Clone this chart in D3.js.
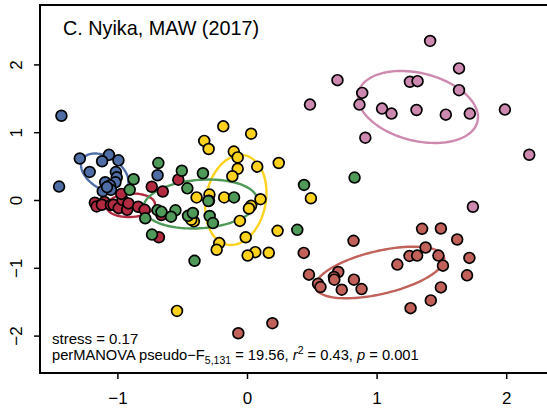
<!DOCTYPE html>
<html>
<head>
<meta charset="utf-8">
<script src="https://cdn.jsdelivr.net/npm/d3@7"></script>
<style>
  html, body { margin: 0; padding: 0; background: #fff; }
  svg { display: block; }
  text { font-family: "Liberation Sans", Arial, Helvetica, sans-serif; fill: #000; }
</style>
</head>
<body>
<svg id="chart" width="547" height="411"></svg>
<script>
// NMDS site scores, one array of [NMDS1, NMDS2] per group
const groupYellow = [[-0.183,1.086],[0.032,0.978],[-0.330,0.872],[-0.296,0.752],[-0.102,0.714],[-0.072,0.628],[0.079,0.492],[0.245,0.546],[-0.072,0.461],[-0.113,0.350],[0.493,0.025],[-0.389,0.038],[-0.290,0.080],[-0.176,0.038],[0.104,0.012],[0.031,-0.086],[0.015,-0.125],[-0.410,-0.315],[-0.430,-0.290],[-0.055,-0.308],[0.236,-0.455],[-0.010,-0.550],[-0.214,-0.636],[-0.234,-0.734],[0.064,-0.769],[0.005,-0.818],[0.168,-0.778],[-0.540,-1.636],[-0.293,-0.010]];
const groupCrimson = [[-1.174,-0.040],[-1.160,-0.095],[-1.100,-0.030],[-1.120,-0.070],[-1.050,-0.075],[-1.030,-0.070],[-0.990,-0.120],[-0.925,-0.145],[-0.960,0.000],[-0.970,0.090],[-0.915,-0.050],[-0.840,-0.100],[-0.790,-0.145],[-0.735,0.196],[-0.650,0.125],[-0.530,0.300],[-0.660,-0.222],[-0.680,-0.550]];
const groupGreen = [[0.830,0.331],[0.440,0.222],[0.388,-0.440],[-0.405,-0.897],[-0.684,0.545],[-0.503,0.432],[-0.340,0.394],[-0.875,0.306],[-0.460,0.172],[-0.298,-0.015],[-0.100,0.038],[-0.690,-0.150],[-0.785,-0.270],[-0.552,-0.152],[-0.586,-0.246],[-0.455,-0.234],[-0.418,-0.192],[-0.288,-0.236],[-0.263,-0.340],[-0.733,-0.510],[-0.905,0.150],[-0.660,-0.175]];
const groupBlue = [[-1.432,1.242],[-1.450,0.198],[-1.290,0.612],[-1.065,0.666],[-1.118,0.572],[-0.992,0.585],[-1.214,0.414],[-1.012,0.412],[-1.005,0.334],[-1.094,0.262],[-1.015,0.262],[-1.057,0.215],[-1.113,0.130],[-1.050,0.150],[-0.690,0.365],[-1.080,0.190]];
const groupBrick = [[0.822,-0.602],[1.351,-0.425],[1.496,-0.420],[1.622,-0.583],[0.438,-0.780],[1.378,-0.701],[1.254,-0.825],[1.313,-0.820],[1.477,-0.820],[1.716,-0.854],[1.160,-0.953],[1.512,-0.968],[0.478,-1.101],[0.704,-1.062],[0.671,-1.136],[0.674,-1.175],[0.825,-1.175],[1.698,-1.111],[0.548,-1.235],[0.567,-1.284],[0.731,-1.323],[0.884,-1.314],[1.496,-1.289],[1.418,-1.481],[1.262,-1.595],[0.196,-1.817],[-0.067,-1.965]];
const groupPink = [[1.413,2.346],[1.636,1.941],[0.698,1.768],[1.257,1.743],[1.316,1.753],[0.889,1.580],[1.636,1.620],[0.486,1.407],[0.868,1.407],[1.042,1.348],[1.115,1.274],[1.308,1.328],[1.534,1.259],[1.719,1.274],[1.990,1.333],[0.913,0.919],[2.178,0.667],[1.743,-0.099]];

// group ellipses: centre plus two conjugate semi-axis vectors, in NMDS units
const ellipseYellow  = { c: [-0.086, 0.000], u: [0.0682, 0.6584], v: [0.2263, -0.0857] };
const ellipseCrimson = { c: [-0.897, -0.078], u: [0.1872, 0.0187], v: [0.0047, -0.1723] };
const ellipseGreen   = { c: [-0.359, -0.059], u: [0.4394, 0.0618], v: [0.0137, -0.3559] };
const ellipseBlue    = { c: [-1.098, 0.398], u: [0.1705, -0.2077], v: [-0.0664, -0.1990] };
const ellipseBrick   = { c: [1.025, -1.069], u: [0.4958, 0.2223], v: [0.0379, -0.3087] };
const ellipsePink    = { c: [1.319, 1.372], u: [0.4590, -0.2180], v: [-0.0630, -0.4840] };

const xTicks = [-1, 0, 1, 2];
const yTicks = [-2, -1, 0, 1, 2];

const colors = {
  yellow: "#FFD21E",
  crimson: "#B22B40",
  green: "#4F9A58",
  blue: "#4F6EA6",
  brick: "#C1615A",
  pink: "#CD89AF"
};

const groups = [
  { pts: groupYellow,  ell: ellipseYellow,  col: colors.yellow },
  { pts: groupCrimson, ell: ellipseCrimson, col: colors.crimson },
  { pts: groupGreen,   ell: ellipseGreen,   col: colors.green },
  { pts: groupBlue,    ell: ellipseBlue,    col: colors.blue },
  { pts: groupBrick,   ell: ellipseBrick,   col: colors.brick },
  { pts: groupPink,    ell: ellipsePink,    col: colors.pink }
];

const svg = d3.select("#chart");

const x = d3.scaleLinear().domain([-1, 2]).range([117.4, 506.2]);
const y = d3.scaleLinear().domain([-2, 2]).range([335.6, 64.4]);

const plot = { left: 40, top: 5, bottom: 373, right: 600 };

// ellipses
const line = d3.line().x(d => x(d[0])).y(d => y(d[1])).curve(d3.curveLinearClosed);
const ts = d3.range(0, 120).map(i => i / 120 * 2 * Math.PI);
svg.append("g").selectAll("path")
  .data(groups)
  .join("path")
  .attr("d", g => line(ts.map(t => [
    g.ell.c[0] + Math.cos(t) * g.ell.u[0] + Math.sin(t) * g.ell.v[0],
    g.ell.c[1] + Math.cos(t) * g.ell.u[1] + Math.sin(t) * g.ell.v[1]
  ])))
  .attr("fill", "none")
  .attr("stroke", g => g.col)
  .attr("stroke-width", 2.4);

// site points
groups.forEach(g => {
  svg.append("g").selectAll("circle")
    .data(g.pts)
    .join("circle")
    .attr("cx", d => x(d[0]))
    .attr("cy", d => y(d[1]))
    .attr("r", 5.4)
    .attr("fill", g.col)
    .attr("stroke", "#000")
    .attr("stroke-width", 1.7);
});

// frame
svg.append("rect")
  .attr("x", plot.left).attr("y", plot.top)
  .attr("width", plot.right - plot.left).attr("height", plot.bottom - plot.top)
  .attr("fill", "none").attr("stroke", "#000").attr("stroke-width", 2);

// axes
const xAxis = svg.append("g")
  .attr("transform", `translate(0,${plot.bottom})`)
  .call(d3.axisBottom(x).tickValues(xTicks).tickSize(6).tickFormat(d3.format("d")));
xAxis.select(".domain").remove();
xAxis.selectAll("line").attr("stroke", "#000").attr("stroke-width", 1.5);
xAxis.selectAll("text")
  .attr("y", 31).attr("dy", null)
  .style("font-size", "17px")
  .style("font-family", "'Liberation Sans', Arial, sans-serif");

const yAxis = svg.append("g")
  .attr("transform", `translate(${plot.left},0)`)
  .call(d3.axisLeft(y).tickValues(yTicks).tickSize(6).tickFormat(d3.format("d")));
yAxis.select(".domain").remove();
yAxis.selectAll("line").attr("stroke", "#000").attr("stroke-width", 1.5);
yAxis.selectAll("text")
  .attr("transform", "rotate(-90)")
  .attr("x", 0).attr("y", -18).attr("dy", null)
  .attr("text-anchor", "middle")
  .style("font-size", "17px")
  .style("font-family", "'Liberation Sans', Arial, sans-serif");

// title
svg.append("text")
  .attr("x", 63).attr("y", 35)
  .style("font-size", "19.8px")
  .text("C. Nyika, MAW (2017)");

// ordination statistics
svg.append("text")
  .attr("x", 52).attr("y", 344)
  .style("font-size", "15px")
  .text("stress = 0.17");

const stat = svg.append("text")
  .attr("x", 52).attr("y", 360)
  .style("font-size", "14.7px");
stat.append("tspan").text("perMANOVA pseudo\u2212F");
stat.append("tspan").attr("dy", 4).style("font-size", "10.5px").text("5,131");
stat.append("tspan").attr("dy", -4).text(" = 19.56, ");
stat.append("tspan").style("font-style", "italic").text("r");
stat.append("tspan").attr("dy", -6).style("font-size", "10.5px").text("2");
stat.append("tspan").attr("dy", 6).text(" = 0.43, ");
stat.append("tspan").style("font-style", "italic").text("p");
stat.append("tspan").text(" = 0.001");
</script>
</body>
</html>
